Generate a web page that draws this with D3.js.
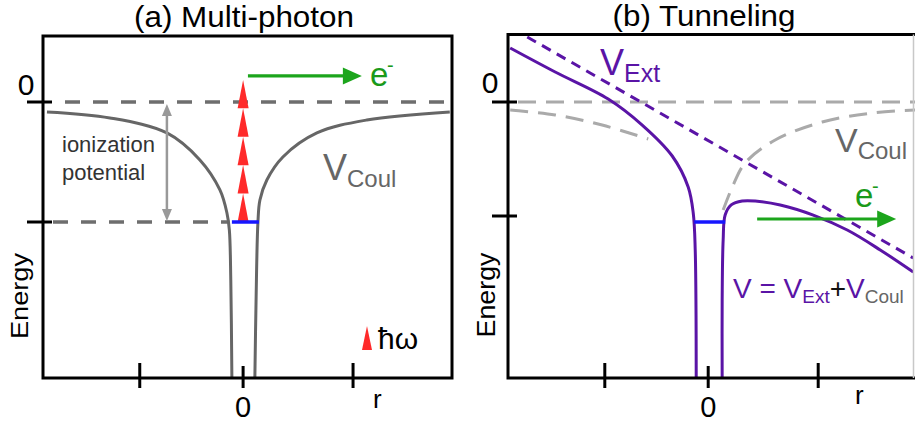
<!DOCTYPE html>
<html>
<head>
<meta charset="utf-8">
<script src="https://cdn.jsdelivr.net/npm/d3@7"></script>
<style>
  html, body { margin: 0; padding: 0; background: #fff; }
  svg { display: block; font-family: "Liberation Sans", Arial, sans-serif; }
</style>
</head>
<body>
<svg id="chart" width="915" height="425"></svg>
<script>
// ---- data (r in arbitrary units, energy in units of the ionization potential) ----
const xTickValues = [-0.94, 0, 1];
const xTickLabels = ["", "0", ""];
const yTickValuesA = [0, -1];
const yTickValuesB = [0, -0.95];
const yTickLabels = ["0", ""];

// (a) Coulomb potential, two branches
const coulLeftA = [[-1.784, -0.083], [-1.211, -0.133], [-0.693, -0.258], [-0.393, -0.483],
  [-0.211, -0.733], [-0.147, -0.925], [-0.125, -1.067], [-0.112, -1.483], [-0.102, -2.3]];
const coulRightA = [[1.88, -0.083], [1.125, -0.15], [0.671, -0.258], [0.362, -0.458],
  [0.216, -0.65], [0.153, -0.817], [0.135, -1.0], [0.118, -1.65], [0.107, -2.3]];
const groundLevel = -1;
const groundWellA = [-0.102, 0.144];
const photonBases = [-1.0, -0.763, -0.527, -0.290, -0.053];
const photonHeight = 0.237;
const electronA = [[0.044, 0.217], [1.08, 0.217]];

// (b) field-dressed potential
const vExtB = [[-1.645, 0.542], [1.864, -1.3]];
const vLeftB = [[-1.8, 0.45], [-1.391, 0.25], [-0.909, 0.025], [-0.6, -0.192], [-0.327, -0.45],
  [-0.182, -0.708], [-0.136, -0.925], [-0.118, -1.233], [-0.109, -2.3]];
const vRightB = [[0.127, -2.3], [0.127, -1.65], [0.136, -1.15], [0.154, -0.942], [0.209, -0.858],
  [0.309, -0.825], [0.427, -0.825], [0.655, -0.858], [0.955, -0.942], [1.264, -1.067],
  [1.564, -1.233], [1.864, -1.417]];
const coulLeftB = [[-1.8, -0.067], [-1.391, -0.108], [-0.964, -0.192], [-0.545, -0.308]];
const coulRightB = [[0.136, -0.9], [0.227, -0.692], [0.336, -0.508], [0.609, -0.317],
  [1.036, -0.167], [1.491, -0.092], [1.882, -0.067]];
const groundWellB = [-0.127, 0.155];
const electronB = [[0.445, -0.975], [1.709, -0.975]];

// ---- styles ----
const purple = "#5a14a6", green = "#1ca51c", red = "#ff2a2a", blue = "#1616ff";
const svg = d3.select("#chart");

function lineGen(x, y) {
  return d3.line().x(d => x(d[0])).y(d => y(d[1])).curve(d3.curveCatmullRom.alpha(0.5));
}

function arrowRight(g, x, y, pts, color) {
  const x0 = x(pts[0][0]), x1 = x(pts[1][0]), yy = y(pts[0][1]);
  g.append("line").attr("x1", x0).attr("x2", x1 - 14).attr("y1", yy).attr("y2", yy)
    .attr("stroke", color).attr("stroke-width", 3.2);
  g.append("path").attr("d", `M${x1},${yy} L${x1 - 19},${yy - 8.5} L${x1 - 19},${yy + 8.5} Z`)
    .attr("fill", color);
}

function electronLabel(g, px, py) {
  g.append("text").attr("x", px).attr("y", py).attr("fill", "#1a9a1a")
    .attr("font-size", 33).text("e");
  g.append("text").attr("x", px + 17).attr("y", py - 14).attr("fill", "#1a9a1a")
    .attr("font-size", 20).text("-");
}

function xTicks(g, x, yBottom) {
  xTickValues.forEach((v, i) => {
    g.append("line").attr("x1", x(v)).attr("x2", x(v))
      .attr("y1", v === 0 ? yBottom - 12 : yBottom - 15).attr("y2", yBottom + 10)
      .attr("stroke", "#000").attr("stroke-width", 3);
    if (xTickLabels[i]) {
      g.append("text").attr("x", x(v)).attr("y", yBottom + 39).attr("text-anchor", "middle")
        .attr("font-size", 29).text(xTickLabels[i]);
    }
  });
}

function yTicks(g, y, xLeft, values, labelX, labelDy) {
  values.forEach((v, i) => {
    g.append("line").attr("x1", xLeft - 16).attr("x2", xLeft + 9).attr("y1", y(v)).attr("y2", y(v))
      .attr("stroke", "#000").attr("stroke-width", 3);
    if (yTickLabels[i]) {
      g.append("text").attr("x", labelX).attr("y", y(v) + labelDy).attr("text-anchor", "middle")
        .attr("font-size", 30).text(yTickLabels[i]);
    }
  });
}

// ================= (a) Multi-photon =================
{
  const L = 43, R = 452, T = 36, B = 378;
  const x = d3.scaleLinear().domain([-1.82, 1.9]).range([L, R]);
  const y = d3.scaleLinear().domain([0, -1]).range([102, 222]);
  const g = svg.append("g");

  g.append("text").attr("x", 244).attr("y", 27).attr("text-anchor", "middle")
    .attr("font-size", 29).attr("textLength", 220).attr("lengthAdjust", "spacingAndGlyphs")
    .text("(a) Multi-photon");

  // dashed reference levels
  g.append("line").attr("x1", 65).attr("x2", R).attr("y1", y(0)).attr("y2", y(0))
    .attr("stroke", "#6e6e6e").attr("stroke-width", 3.5).attr("stroke-dasharray", "15,13");
  g.append("line").attr("x1", 53).attr("x2", x(coulLeftA[6][0])).attr("y1", y(groundLevel)).attr("y2", y(groundLevel))
    .attr("stroke", "#6e6e6e").attr("stroke-width", 3.5).attr("stroke-dasharray", "15,13");

  // Coulomb well
  const line = lineGen(x, y);
  [coulLeftA, coulRightA].forEach(d => g.append("path").attr("d", line(d))
    .attr("fill", "none").attr("stroke", "#666").attr("stroke-width", 3));

  // ionization potential double arrow
  const ax = x(-0.693);
  g.append("line").attr("x1", ax).attr("x2", ax).attr("y1", y(0) + 10).attr("y2", y(groundLevel) - 10)
    .attr("stroke", "#999").attr("stroke-width", 2.5);
  g.append("path").attr("d", `M${ax},${y(0) + 2} L${ax - 5},${y(0) + 14} L${ax + 5},${y(0) + 14} Z`).attr("fill", "#999");
  g.append("path").attr("d", `M${ax},${y(groundLevel) - 1} L${ax - 5},${y(groundLevel) - 13} L${ax + 5},${y(groundLevel) - 13} Z`).attr("fill", "#999");
  g.append("text").attr("x", 62).attr("y", 152).attr("font-size", 22).attr("fill", "#333").text("ionization");
  g.append("text").attr("x", 62).attr("y", 180).attr("font-size", 22).attr("fill", "#333").text("potential");

  // photons
  const cx = x(0);
  photonBases.forEach(b => {
    g.append("path").attr("d",
      `M${cx},${y(b + photonHeight)} L${cx - 5.5},${y(b)} L${cx + 5.5},${y(b)} Z`).attr("fill", red);
  });

  // bound level
  g.append("line").attr("x1", x(groundWellA[0])).attr("x2", x(groundWellA[1]))
    .attr("y1", y(groundLevel)).attr("y2", y(groundLevel)).attr("stroke", blue).attr("stroke-width", 3.5);

  // escaping electron
  arrowRight(g, x, y, electronA, green);
  electronLabel(g, 370, 86);

  // V_Coul label
  const vc = g.append("text").attr("x", 323).attr("y", 180).attr("fill", "#666").attr("font-size", 36);
  vc.append("tspan").text("V");
  vc.append("tspan").attr("font-size", 24).attr("dy", 7).text("Coul");

  // photon legend
  g.append("path").attr("d", "M367,326 L362,350 L372,350 Z").attr("fill", red);
  g.append("text").attr("x", 378).attr("y", 349).attr("font-size", 30).text("ħω");

  // frame and axes
  g.append("rect").attr("x", L).attr("y", T).attr("width", R - L).attr("height", B - T)
    .attr("fill", "none").attr("stroke", "#000").attr("stroke-width", 3);
  xTicks(g, x, B);
  yTicks(g, y, L, yTickValuesA, 26, -7);
  g.append("text").attr("x", 373).attr("y", 408).attr("font-size", 26).text("r");
  g.append("text").attr("transform", "translate(28,296) rotate(-90)").attr("text-anchor", "middle")
    .attr("font-size", 24).attr("textLength", 86).attr("lengthAdjust", "spacingAndGlyphs").text("Energy");
}

// ================= (b) Tunneling =================
{
  const L = 508, R = 915, T = 34.5, B = 378;
  const x = d3.scaleLinear().domain([-1.82, 1.88]).range([L, R]);
  const y = d3.scaleLinear().domain([0, -1]).range([102, 222]);
  const g = svg.append("g");

  g.append("text").attr("x", 704).attr("y", 26).attr("text-anchor", "middle")
    .attr("font-size", 29).attr("textLength", 183).attr("lengthAdjust", "spacingAndGlyphs")
    .text("(b) Tunneling");

  g.append("clipPath").attr("id", "clipB").append("rect")
    .attr("x", L).attr("y", T).attr("width", R - L).attr("height", B - T);
  const plot = g.append("g").attr("clip-path", "url(#clipB)");
  const line = lineGen(x, y);

  // zero level and bare Coulomb potential
  plot.append("line").attr("x1", 518).attr("x2", R).attr("y1", y(0)).attr("y2", y(0))
    .attr("stroke", "#aaa").attr("stroke-width", 3).attr("stroke-dasharray", "18,10");
  [coulLeftB, coulRightB].forEach(d => plot.append("path").attr("d", line(d))
    .attr("fill", "none").attr("stroke", "#aaa").attr("stroke-width", 3).attr("stroke-dasharray", "18,10"));

  // external field potential
  plot.append("path").attr("d", d3.line().x(d => x(d[0])).y(d => y(d[1]))(vExtB))
    .attr("fill", "none").attr("stroke", purple).attr("stroke-width", 3).attr("stroke-dasharray", "10,7");

  // total potential
  [vLeftB, vRightB].forEach(d => plot.append("path").attr("d", line(d))
    .attr("fill", "none").attr("stroke", purple).attr("stroke-width", 3));

  // bound level
  plot.append("line").attr("x1", x(groundWellB[0])).attr("x2", x(groundWellB[1]))
    .attr("y1", y(groundLevel)).attr("y2", y(groundLevel)).attr("stroke", blue).attr("stroke-width", 3.5);

  // tunnelled electron
  arrowRight(g, x, y, electronB, green);
  electronLabel(g, 855, 207);

  // labels
  const ve = g.append("text").attr("x", 600).attr("y", 75).attr("fill", purple).attr("font-size", 36);
  ve.append("tspan").text("V");
  ve.append("tspan").attr("font-size", 25).attr("dy", 7).text("Ext");

  const vc = g.append("text").attr("x", 835).attr("y", 152).attr("fill", "#666").attr("font-size", 34);
  vc.append("tspan").text("V");
  vc.append("tspan").attr("font-size", 24).attr("dy", 7).text("Coul");

  const vs = g.append("text").attr("x", 733).attr("y", 298).attr("font-size", 28);
  vs.append("tspan").attr("fill", purple).text("V = V");
  vs.append("tspan").attr("fill", purple).attr("font-size", 19).attr("dy", 5).text("Ext");
  vs.append("tspan").attr("fill", "#111").attr("dy", -5).text("+");
  vs.append("tspan").attr("fill", purple).text("V");
  vs.append("tspan").attr("fill", "#666").attr("font-size", 19).attr("dy", 5).text("Coul");

  // frame (open on the right) and axes
  g.append("path").attr("d", `M${R + 2},${T} L${L},${T} L${L},${B} L${R + 2},${B}`)
    .attr("fill", "none").attr("stroke", "#000").attr("stroke-width", 3);
  g.append("line").attr("x1", 913.5).attr("x2", 913.5).attr("y1", T).attr("y2", B)
    .attr("stroke", "#c8c8c8").attr("stroke-width", 1.5);
  xTicks(g, x, B);
  yTicks(g, y, L, yTickValuesB, 490, -9);
  g.append("text").attr("x", 855).attr("y", 404).attr("font-size", 26).text("r");
  g.append("text").attr("transform", "translate(495,295) rotate(-90)").attr("text-anchor", "middle")
    .attr("font-size", 25).attr("textLength", 85).attr("lengthAdjust", "spacingAndGlyphs").text("Energy");
}
</script>
</body>
</html>
